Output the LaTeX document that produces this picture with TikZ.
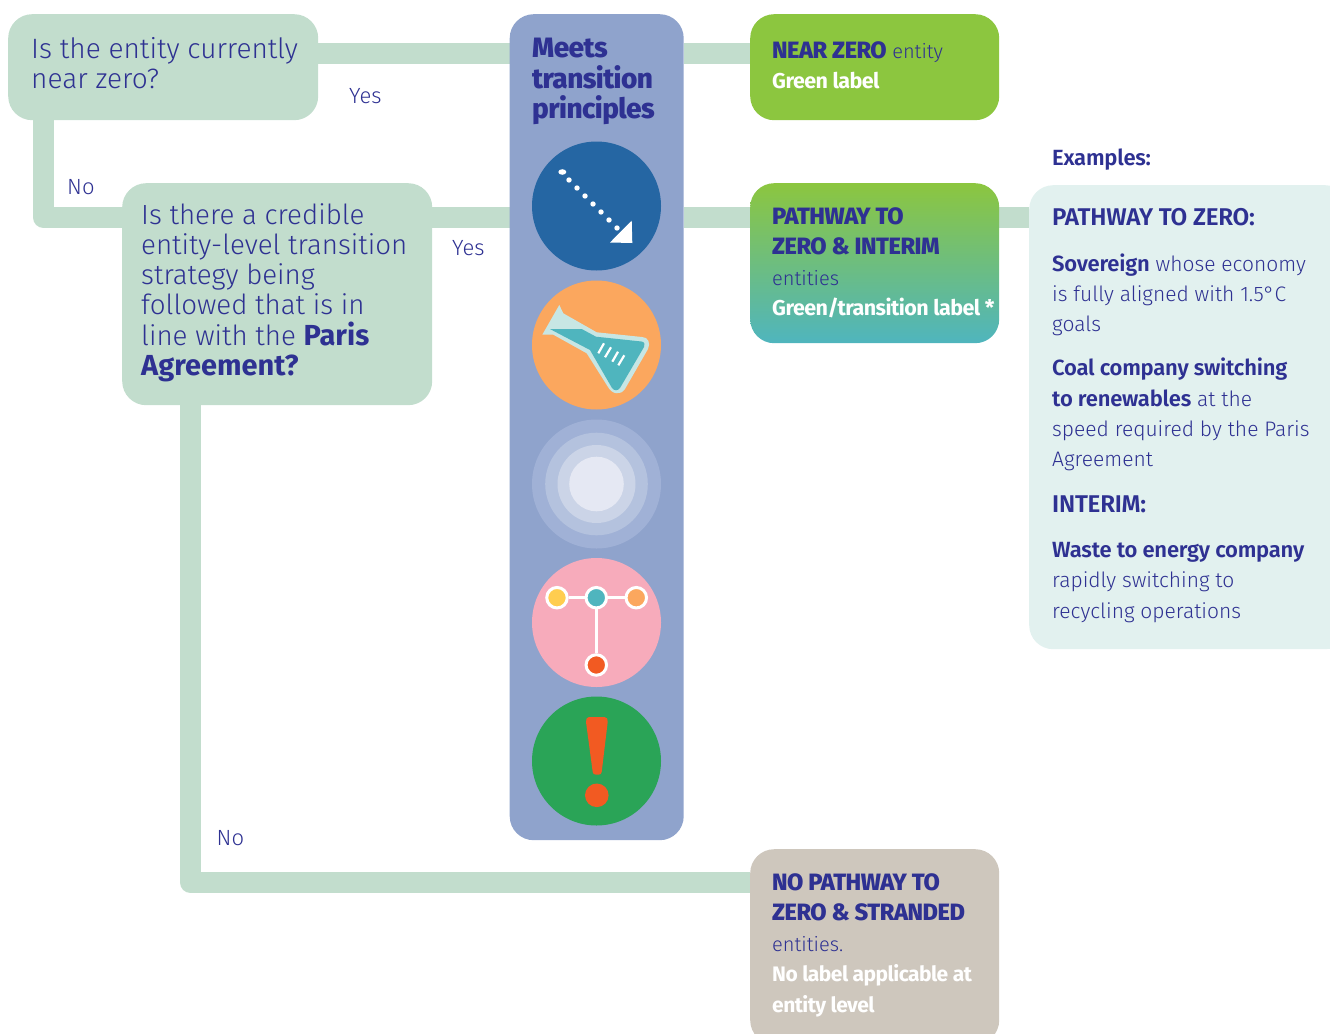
\documentclass[tikz,border=0pt]{standalone}
\usepackage{fontspec}
\usetikzlibrary{backgrounds}
\setmainfont{Fira Sans Light}[BoldFont={Fira Sans Bold}]
\newfontfamily\heavy{Fira Sans ExtraBold}[LetterSpace=-2]
\newfontfamily\semi{Fira Sans SemiBold}[LetterSpace=-1]
\newfontfamily\boldtight{Fira Sans Bold}[LetterSpace=-2.5]
\newfontfamily\boldwide{Fira Sans Bold}
\newcommand{\capsb}[1]{{\fontsize{23.6}{30.5}\heavy\selectfont #1}}
\newcommand{\capsx}[1]{{\fontsize{24.2}{30.5}\semi\selectfont #1}}
\newcommand{\wlab}[1]{{\fontsize{21.5}{30.5}\boldtight\selectfont\color{white}#1}}
\newcommand{\wlabs}[1]{{\fontsize{21}{30.5}\boldtight\selectfont\color{white}#1}}
\newcommand{\strongq}[1]{{\fontsize{29}{30.3}\boldwide\selectfont #1}}
\definecolor{ink}{HTML}{2E3192}
\definecolor{pale}{HTML}{C2DDCD}
\definecolor{panel}{HTML}{8FA3CC}
\definecolor{lime}{HTML}{8CC63F}
\definecolor{teal}{HTML}{4FB5BE}
\definecolor{stone}{HTML}{CEC7BD}
\definecolor{mint}{HTML}{E2F1EF}
\definecolor{navy}{HTML}{2566A3}
\definecolor{amber}{HTML}{FBA75E}
\definecolor{flaskpale}{HTML}{C7E6E4}
\definecolor{ringa}{HTML}{A0B1D6}
\definecolor{ringb}{HTML}{B4C2DE}
\definecolor{ringc}{HTML}{CBD4E7}
\definecolor{ringd}{HTML}{E5E8F3}
\definecolor{rose}{HTML}{F7ABBB}
\definecolor{sun}{HTML}{FFCD4F}
\definecolor{flame}{HTML}{F25A22}
\definecolor{leaf}{HTML}{2AA457}
\tikzset{
  box/.style={rectangle,rounded corners=24,inner sep=0pt,anchor=north west},
  conn/.style={draw=pale,line width=21,line join=round},
  word/.style={text=ink,inner sep=0pt,anchor=north west,align=left},
  ans/.style={text=ink,inner sep=0pt,anchor=base west,font=\fontsize{22}{26}\selectfont},
  disc/.style={circle,inner sep=0pt,minimum size=129},
  dot/.style={circle,draw=white,line width=3,inner sep=0pt,minimum size=20.5},
  spoke/.style={draw=white,line width=2.5},
}
\begin{document}
\begin{tikzpicture}[x=1pt,y=-1pt]
\useasboundingbox (0,0) rectangle (1330,1033);
\clip (0,0) rectangle (1330,1033);
% boxes
\node[box,fill=pale,minimum width=310,minimum height=106] (q1) at (8,14) {};
\node[box,fill=pale,minimum width=310,minimum height=222] (q2) at (122,183) {};
\node[box,fill=panel,minimum width=174,minimum height=826] (meets) at (509.5,14) {};
\node[box,fill=lime,minimum width=249,minimum height=106] (near) at (750,14) {};
\node[box,top color=lime,bottom color=teal,minimum width=249,minimum height=160] (path) at (750,183) {};
\node[box,fill=stone,minimum width=249,minimum height=195] (none) at (750,849) {};
\node[box,fill=mint,minimum width=320,minimum height=464] (ex) at (1029,185) {};
% connectors
\begin{pgfonlayer}{background}
\coordinate (r1) at (0,53.5);
\coordinate (r2) at (0,217.5);
\coordinate (r3) at (0,882.5);
\coordinate (c1) at (43.5,0);
\coordinate (c2) at (190.5,0);
\draw[conn] (q1.east |- r1) -- (meets.west |- r1);
\draw[conn] (meets.east |- r1) -- (near.west |- r1);
\draw[conn] (c1 |- q1.south) -- (c1 |- r2) -- (q2.west |- r2);
\draw[conn] (q2.east |- r2) -- (meets.west |- r2);
\draw[conn] (meets.east |- r2) -- (path.west |- r2);
\draw[conn] (path.east |- r2) -- (ex.west |- r2);
\draw[conn] (c2 |- q2.south) -- (c2 |- r3) -- (none.west |- r3);
\end{pgfonlayer}
% question text
\node[word,font=\fontsize{28}{30}\selectfont] (t1) at (31,37) {Is the entity currently\\near zero?};
\node[word,font=\fontsize{27.7}{30.3}\selectfont] (t2) at (141,203) {Is there a credible\\entity-level transition\\strategy being\\followed that is in\\line with the \strongq{Paris}\\\strongq{Agreement?}};
\node[ans] (y1) at (349,103) {Yes};
\node[ans] (n1) at (67,194) {No};
\node[ans] (y2) at (452,255) {Yes};
\node[ans] (n2) at (216.5,845) {No};
% panel title
\node[word,font=\fontsize{28}{30.5}\heavy] (mt) at (532,38) {Meets\\transition\\principles};
% icon 1
\node[disc,fill=navy] (i1) at (596.5,206) {};
\fill[white] (562.3,172) ellipse [x radius=4,y radius=2.8];
\foreach \k in {0,...,6} \fill[white] (569+8*\k,180+8*\k) circle (2.7);
\fill[white] (631.7,220.7) -- (610,242.5) -- (632.3,243) -- cycle;
% icon 2
\node[disc,fill=amber] (i2) at (596.5,345) {};
\fill[flaskpale] (559.3,305) -- (542.3,334.7) -- (553.3,334.7) -- (586.7,353.3) -- (608,387)
  .. controls (612,394) and (620,396) .. (625,389) -- (648,349)
  .. controls (651,343) and (648,337) .. (642,337) -- (596.7,332.3) -- (563.3,313.3) -- cycle;
\fill[teal] (550,329) -- (581.7,329) -- (596,336.7) -- (641.5,341.5)
  .. controls (645,342) and (645,345) .. (644,347) -- (620,388)
  .. controls (618,391) and (614,391) .. (612,388) -- (590,350) -- (555,331.7) -- cycle;
\foreach \a/\b/\c/\d in {598.3/353.3/604/343.3,605/357.3/611/347.3,612.3/361.7/618/351.7,618.3/365.3/624.3/355.3}
  \draw[white,line width=2.2] (\a,\b) -- (\c,\d);
% icon 3
\node[disc,fill=ringa] (i3) at (596.5,484) {};
\fill[ringb] (i3) circle (51.3);
\fill[ringc] (i3) circle (39);
\fill[ringd] (i3) circle (27.3);
% icon 4
\node[disc,fill=rose] (i4) at (596.5,622.5) {};
\node[dot,fill=sun] (da) at (557,597.7) {};
\node[dot,fill=teal] (db) at (596.3,597.7) {};
\node[dot,fill=amber] (dc) at (636.3,597.7) {};
\node[dot,fill=flame] (dd) at (596.3,665) {};
\draw[spoke] (da) -- (db);
\draw[spoke] (db) -- (dc);
\draw[spoke] (db) -- (dd);
% icon 5
\node[disc,fill=leaf] (i5) at (596.5,761) {};
\fill[flame] (589,717) -- (604.5,717) .. controls (607,717) and (608,719) .. (607.7,722)
  -- (601.7,772) .. controls (601.5,774) and (600,774.5) .. (599,774.5) -- (595.5,774.5)
  .. controls (594,774.5) and (593,774) .. (592.7,772) -- (586,722)
  .. controls (585.7,719) and (587,717) .. (589,717) -- cycle;
\fill[flame] (596.8,795.3) circle (11.8);
% outcome text
\node[word,font=\fontsize{20}{30.5}\selectfont] (tn) at (772,41) {\capsb{NEAR ZERO} entity\\\wlab{Green label}};
\node[word,font=\fontsize{20}{30.5}\selectfont] (tp) at (772,207) {\capsb{PATHWAY TO}\\\capsb{ZERO \& INTERIM}\\entities\\\wlab{Green/transition label *}};
\node[word,font=\fontsize{20}{30.5}\selectfont] (tz) at (772,873) {\capsb{NO PATHWAY TO}\\\capsb{ZERO \& STRANDED}\\entities.\\\wlabs{No label applicable at}\\\wlabs{entity level}};
% examples
\node[word,font=\fontsize{22}{26}\semi] (xh) at (1052,149) {Examples:};
\node[word,font=\fontsize{21}{30}\selectfont] (x1) at (1052,208) {\capsx{PATHWAY TO ZERO:}};
\node[word,font=\fontsize{21}{30}\selectfont] (x2) at (1052,254) {{\fontsize{22}{30}\semi\selectfont Sovereign} whose economy\\is fully aligned with 1.5°C\\goals};
\node[word,font=\fontsize{21}{30.3}\selectfont] (x3) at (1052,358) {{\fontsize{22}{30}\semi\selectfont Coal company switching}\\{\fontsize{22}{30}\semi\selectfont to renewables} at the\\speed required by the Paris\\Agreement};
\node[word,font=\fontsize{21}{30}\selectfont] (x4) at (1052,496) {\capsx{INTERIM:}};
\node[word,font=\fontsize{21}{30.5}\selectfont] (x5) at (1052,542) {{\fontsize{22}{30}\semi\selectfont Waste to energy company}\\rapidly switching to\\recycling operations};
\end{tikzpicture}
\end{document}
